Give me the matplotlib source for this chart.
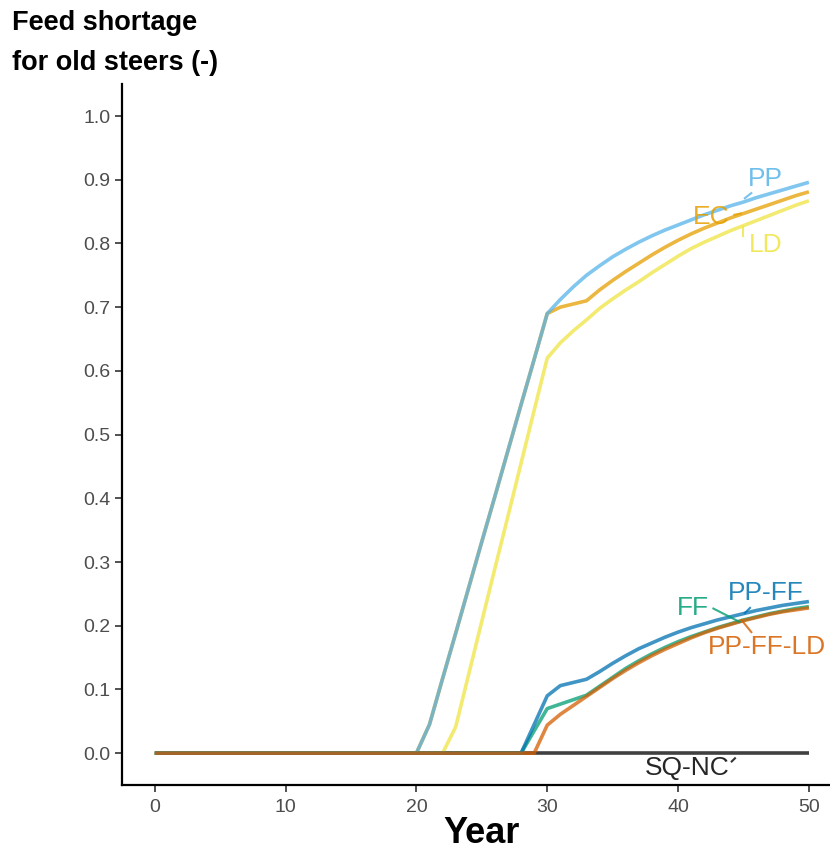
import matplotlib
matplotlib.use("Agg")
import matplotlib.pyplot as plt

plt.rcParams['font.family'] = ['Liberation Sans', 'DejaVu Sans']

# years 0..50
years = list(range(0, 51))

# values (0 before the listed start)
pp_tail = [0.045, 0.117, 0.188, 0.260, 0.332, 0.403, 0.475, 0.547, 0.618, 0.690,
           0.712, 0.732, 0.750, 0.765, 0.779, 0.791, 0.802, 0.812, 0.821, 0.829,
           0.837, 0.845, 0.852, 0.859, 0.865, 0.872, 0.878, 0.884, 0.890, 0.896]   # 21..50
ec_tail = [0.045, 0.117, 0.188, 0.260, 0.332, 0.403, 0.475, 0.547, 0.618, 0.690,
           0.700, 0.705, 0.710, 0.727, 0.742, 0.756, 0.769, 0.782, 0.794, 0.805,
           0.815, 0.824, 0.832, 0.840, 0.847, 0.854, 0.861, 0.868, 0.875, 0.881]   # 21..50
ld_tail = [0.041, 0.124, 0.207, 0.290, 0.372, 0.455, 0.538, 0.620,
           0.644, 0.663, 0.680, 0.698, 0.713, 0.727, 0.740, 0.754, 0.767, 0.780,
           0.792, 0.802, 0.811, 0.820, 0.828, 0.836, 0.844, 0.852, 0.860, 0.867]   # 23..50
ff_tail = [0.035, 0.070, 0.077, 0.084, 0.091, 0.105, 0.119, 0.133, 0.145, 0.156,
           0.166, 0.175, 0.183, 0.190, 0.197, 0.203, 0.209, 0.214, 0.219, 0.223,
           0.227, 0.230]   # 29..50
ppff_tail = [0.045, 0.090, 0.106, 0.111, 0.116, 0.128, 0.141, 0.153, 0.164, 0.173,
             0.182, 0.190, 0.197, 0.203, 0.209, 0.214, 0.219, 0.224, 0.228, 0.232,
             0.235, 0.238]   # 29..50
ppffld_tail = [0.044, 0.061, 0.075, 0.089, 0.103, 0.117, 0.130, 0.142, 0.153,
               0.163, 0.172, 0.181, 0.189, 0.196, 0.202, 0.208, 0.213, 0.218,
               0.222, 0.225, 0.228]   # 30..50

sqnc = [0.0] * 51
pp = [0.0] * 21 + pp_tail
ec = [0.0] * 21 + ec_tail
ld = [0.0] * 23 + ld_tail
ff = [0.0] * 29 + ff_tail
ppff = [0.0] * 29 + ppff_tail
ppffld = [0.0] * 30 + ppffld_tail

# scenario: (values, colour, label x, label y, segment from, segment to)
scenarios = [
    ("SQ-NC", sqnc, "#000000", 40.7, -0.023, (44.1, -0.013), (44.35, -0.008)),
    ("EC", ec, "#E69F00", 42.5, 0.841, (44.3, 0.845), (44.8, 0.847)),
    ("PP", pp, "#56B4E9", 46.7, 0.901, (45.1, 0.871), (45.6, 0.879)),
    ("LD", ld, "#F0E442", 46.7, 0.797, (45.0, 0.826), (45.0, 0.812)),
    ("FF", ff, "#009E73", 41.1, 0.228, (42.7, 0.227), (44.7, 0.206)),
    ("PP-FF", ppff, "#0072B2", 46.7, 0.251, (45.1, 0.220), (45.5, 0.228)),
    ("PP-FF-LD", ppffld, "#D55E00", 46.8, 0.167, (44.85, 0.209), (45.6, 0.190)),
]

fig = plt.figure(figsize=(8.3, 8.56), dpi=100)
ax = fig.add_axes([0.147, 0.0829, 0.867, 0.8188])

for name, vals, col, tx, ty, s0, s1 in scenarios:
    ax.plot(years, vals, color=col, lw=2.6, alpha=0.75, solid_capstyle='butt')
for name, vals, col, tx, ty, s0, s1 in scenarios:
    ax.plot([s0[0], s1[0]], [s0[1], s1[1]], color=col, lw=1.5, alpha=0.8)
    ax.text(tx, ty, name, color=col, fontsize=19, ha='center', va='center', alpha=0.85)

ax.set_xlim(-2.5, 52.5)
ax.set_ylim(-0.05, 1.05)
ax.set_xticks([0, 10, 20, 30, 40, 50])
ax.set_yticks([i / 10 for i in range(11)])
ax.set_yticklabels([f"{i / 10:.1f}" for i in range(11)])

for s in ['top', 'right']:
    ax.spines[s].set_visible(False)
for s in ['left', 'bottom']:
    ax.spines[s].set_linewidth(1.6)
ax.tick_params(axis='both', labelsize=14, labelcolor='#4D4D4D', color='#333333',
               length=5, width=1.2)
ax.tick_params(axis='x', pad=5)

ax.set_xlabel("Year", fontsize=26, fontweight='bold', labelpad=0)
fig.text(0.0145, 0.965, "Feed shortage", fontsize=19.5, fontweight='bold', va='baseline')
fig.text(0.0145, 0.918, "for old steers (-)", fontsize=19.5, fontweight='bold', va='baseline')

fig.savefig("out.png", dpi=100)
